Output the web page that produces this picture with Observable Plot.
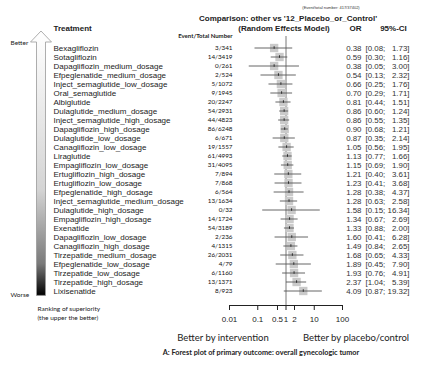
<!DOCTYPE html>
<html><head><meta charset="utf-8">
<script src="https://cdn.jsdelivr.net/npm/d3@7"></script>
<script src="https://cdn.jsdelivr.net/npm/@observablehq/plot@0.6"></script>
<style>body{margin:0;background:#fff;} svg{display:block;}</style>
</head><body><div id="chart"></div>
<script>
const treatments = ["Bexagliflozin","Sotagliflozin","Dapagliflozin_medium_dosage","Efpeglenatide_medium_dosage","Inject_semaglutide_low_dosage","Oral_semaglutide","Albiglutide","Dulaglutide_medium_dosage","Inject_semaglutide_high_dosage","Dapagliflozin_high_dosage","Dulaglutide_low_dosage","Canagliflozin_low_dosage","Liraglutide","Empagliflozin_low_dosage","Ertugliflozin_high_dosage","Ertugliflozin_low_dosage","Efpeglenatide_high_dosage","Inject_semaglutide_medium_dosage","Dulaglutide_high_dosage","Empagliflozin_high_dosage","Exenatide","Dapagliflozin_low_dosage","Canagliflozin_high_dosage","Tirzepatide_medium_dosage","Efpeglenatide_low_dosage","Tirzepatide_low_dosage","Tirzepatide_high_dosage","Lixisenatide"];
const events = ["3/341","14/3419","0/261","2/524","5/1072","9/1945","20/2247","54/2931","44/4823","86/6248","6/671","19/1557","61/4993","31/4095","7/894","7/868","6/564","13/1634","0/32","14/1724","54/3189","2/236","4/1315","26/2031","4/79","6/1160","13/1371","8/923"];
const orValues = [0.38,0.59,0.38,0.54,0.66,0.70,0.81,0.86,0.86,0.90,0.87,1.05,1.13,1.15,1.21,1.23,1.28,1.28,1.58,1.34,1.33,1.60,1.49,1.68,1.89,1.93,2.37,4.09];
const ciLower = [0.08,0.30,0.05,0.13,0.25,0.29,0.44,0.60,0.55,0.68,0.35,0.56,0.77,0.69,0.40,0.41,0.38,0.63,0.15,0.67,0.88,0.41,0.84,0.65,0.45,0.76,1.04,0.87];
const ciUpper = [1.73,1.16,3.00,2.32,1.76,1.71,1.51,1.24,1.35,1.21,2.14,1.95,1.66,1.90,3.61,3.68,4.37,2.58,16.34,2.69,2.00,6.28,2.65,4.33,7.90,4.91,5.39,19.32];
const xTicks = [0.01,0.1,0.5,1,2,10,100];
const xTickLabels = ["0.01","0.1","0.5","1","2","10","100"];

const rows = treatments.map((t,i)=>({name:t, ev:events[i], or:orValues[i], lo:ciLower[i], hi:ciUpper[i]}));
const tickRows = xTicks.map((v,i)=>({v, label: xTickLabels[i]}));
const f2 = d3.format(".2f");
const sans = "'Liberation Sans', Arial, sans-serif";
const cal = "Lato, 'Open Sans', sans-serif";

function arrow(index, scales) {
  const y = scales.y;
  const top = y(treatments[0]) - 12;
  const bottom = y(treatments[treatments.length-1]) + 9.4;
  const ns = "http://www.w3.org/2000/svg";
  const g = document.createElementNS(ns, "g");
  g.innerHTML = `<defs><linearGradient id="arrg" x1="0" y1="0" x2="0" y2="1">
    <stop offset="0" stop-color="#ffffff"/><stop offset="0.6" stop-color="#d4d4d4"/>
    <stop offset="0.88" stop-color="#7a7a7a"/><stop offset="1" stop-color="#000"/></linearGradient></defs>
    <path d="M41,${top} L51.5,${top+11} L45.5,${top+11} L45.5,${bottom} L36.5,${bottom} L36.5,${top+11} L30.5,${top+11} Z"
     fill="url(#arrg)" stroke="#999" stroke-width="0.8"/>`;
  return g;
}

const chart = Plot.plot({
  width: 431, height: 366,
  marginLeft: 229, marginRight: 89, marginTop: 36, marginBottom: 61,
  style: {fontFamily: sans, background: "white", color: "#222"},
  x: {type: "log", domain: [0.01, 100], axis: null},
  y: {type: "band", domain: treatments, range: [38.3, 300.7], padding: 0, axis: null},
  marks: [
    arrow,
    Plot.ruleX([1], {stroke: "#555", strokeWidth: 0.8}),
    Plot.dot(rows, {x: "or", y: "name", symbol: "square", r: 4.7, fill: "#cacaca"}),
    Plot.ruleY(rows, {x1: "lo", x2: "hi", y: "name", stroke: "#555", strokeWidth: 0.9}),
    Plot.tickX(rows, {x: "or", y: "name", insetTop: 3.2, insetBottom: 3.2, stroke: "#000", strokeWidth: 0.7}),
    Plot.frame({anchor: "bottom", stroke: "#222"}),
    Plot.axisX(xTicks, {tickSize: 5, tickFormat: () => "", label: null, stroke: "#222"}),
    Plot.text(tickRows, {x: "v", text: "label", frameAnchor: "bottom", dy: 16, fontSize: 8, fill: "#222"}),
    // row texts
    Plot.text(rows, {y: "name", text: "name", frameAnchor: "left", dx: -176, textAnchor: "start", fontSize: 8, fill: "#222"}),
    Plot.text(rows, {y: "name", text: "ev", frameAnchor: "left", dx: 3, textAnchor: "end", fontSize: 6.3, fontFamily: cal, fill: "#111"}),
    Plot.text(rows, {y: "name", text: d => f2(d.or), frameAnchor: "right", dx: 19, textAnchor: "end", fontSize: 7.9, fill: "#333"}),
    Plot.text(rows, {y: "name", text: d => "[" + f2(d.lo) + ";", frameAnchor: "right", dx: 23, textAnchor: "start", fontSize: 7.9, fill: "#333"}),
    Plot.text(rows, {y: "name", text: d => f2(d.hi) + "]", frameAnchor: "right", dx: 67, textAnchor: "end", fontSize: 7.9, fill: "#333"}),
    // headers
    Plot.text(["(Event/total number: 417/37402)"], {frameAnchor: "top", dx: 45, dy: -30, fontSize: 4, fill: "#333"}),
    Plot.text(["Comparison: other vs '12_Placebo_or_Control'"], {frameAnchor: "top", dx: 2, dy: -21, fontSize: 8, fontWeight: "bold"}),
    Plot.text(["(Random Effects Model)"], {frameAnchor: "top", dx: -2, dy: -11, fontSize: 8, fontWeight: "bold"}),
    Plot.text(["OR"], {frameAnchor: "top-right", dx: 19, dy: -11, textAnchor: "end", fontSize: 8, fontWeight: "bold"}),
    Plot.text(["95%-CI"], {frameAnchor: "top-right", dx: 51, dy: -11, textAnchor: "middle", fontSize: 8, fontWeight: "bold"}),
    Plot.text(["Treatment"], {frameAnchor: "top-left", dx: -176, dy: -11, textAnchor: "start", fontSize: 8, fontWeight: "bold"}),
    Plot.text(["Event/Total Number"], {frameAnchor: "top-left", dx: 3, dy: -3, textAnchor: "end", fontSize: 6, fontWeight: "bold", fontFamily: cal}),
    Plot.text(["Better"], {frameAnchor: "top-left", dx: -219, dy: 4, textAnchor: "start", fontSize: 6.5, fontFamily: cal}),
    Plot.text(["Worse"], {frameAnchor: "bottom-left", dx: -219, dy: -9, textAnchor: "start", fontSize: 6.5, fontFamily: cal}),
    Plot.text(["Ranking of superiority"], {frameAnchor: "bottom-left", dx: -192, dy: 5, textAnchor: "start", fontSize: 6.5, fontFamily: cal, fill: "#222"}),
    Plot.text(["(the upper the better)"], {frameAnchor: "bottom-left", dx: -192, dy: 14, textAnchor: "start", fontSize: 6.5, fontFamily: cal, fill: "#222"}),
    Plot.text(["Better by intervention"], {frameAnchor: "bottom", dx: -63, dy: 35, fontSize: 9.5, fontFamily: cal}),
    Plot.text(["Better by placebo/control"], {frameAnchor: "bottom", dx: 70, dy: 35, fontSize: 9.5, fontFamily: cal}),
    Plot.text(["A: Forest plot of primary outcome: overall gynecologic tumor"], {frameAnchor: "bottom", dx: -25, dy: 49, fontSize: 7.3, fontWeight: "bold", fontFamily: cal})
  ]
});
document.getElementById("chart").append(chart);
</script></body></html>
